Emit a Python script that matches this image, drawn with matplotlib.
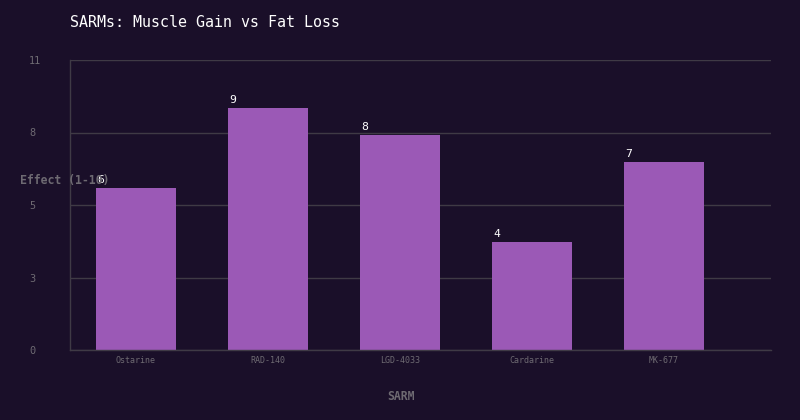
import matplotlib
matplotlib.use("Agg")
import matplotlib.pyplot as plt

categories = ["Ostarine", "RAD-140", "LGD-4033", "Cardarine", "MK-677"]
values = [6.15, 9.18, 8.16, 4.1, 7.13]
value_labels = ["6", "9", "8", "4", "7"]
yticks = [0, 2.75, 5.5, 8.25, 11]
ytick_labels = ["0", "3", "5", "8", "11"]

BG = "#1a0f29"
BAR = "#9b59b6"
GRID = "#3f3a45"
TXT = "#6e6a72"
FONT = "DejaVu Sans Mono"

plt.rcParams["font.family"] = [FONT]

W, H = 800, 420
fig = plt.figure(figsize=(W / 100, H / 100), dpi=100, facecolor=BG)
L, R, T, B = 70, 771, 60, 350
ax = fig.add_axes([L / W, (H - B) / H, (R - L) / W, (B - T) / H], facecolor=BG)

band = 132
width_px = 80
xs = list(range(len(categories)))
ax.bar(xs, values, width=width_px / band, color=BAR, zorder=2)
ax.set_xlim(-0.5, -0.5 + (R - L) / band)
ax.set_ylim(0, 11)

ax.set_yticks(yticks)
ax.set_yticklabels(ytick_labels)
ax.set_xticks(xs)
ax.set_xticklabels(categories)

ax.grid(axis="y", color=GRID, linewidth=1, zorder=0)
ax.set_axisbelow(True)
for s in ["top", "right"]:
    ax.spines[s].set_visible(False)
for s in ["left", "bottom"]:
    ax.spines[s].set_color(GRID)
    ax.spines[s].set_linewidth(1)

ax.tick_params(axis="y", length=0, pad=29.5, labelsize=7.4, labelcolor=TXT)
for lbl in ax.get_yticklabels():
    lbl.set_ha("left")
ax.tick_params(axis="x", length=0, pad=4, labelsize=6.0, labelcolor=TXT)

half = (width_px / band) / 2
for x, v, t in zip(xs, values, value_labels):
    ax.text(x - half + 0.012, v + 0.1, t, color="white", fontsize=8.2,
            ha="left", va="bottom", zorder=3)

ax.text((20 - L) / (R - L), (B - 181) / (B - T), "Effect (1-10)", transform=ax.transAxes,
        ha="left", va="center", color=TXT, fontsize=8.3, fontweight="bold",
        zorder=5, clip_on=False)

fig.text(401 / W, 1 - 397 / H, "SARM", ha="center", va="center", color=TXT,
         fontsize=8.3, fontweight="bold")
fig.text(70 / W, 1 - 22.5 / H, "SARMs: Muscle Gain vs Fat Loss", ha="left", va="center",
         color="white", fontsize=10.8)

fig.savefig("out.png", dpi=100, facecolor=BG)
